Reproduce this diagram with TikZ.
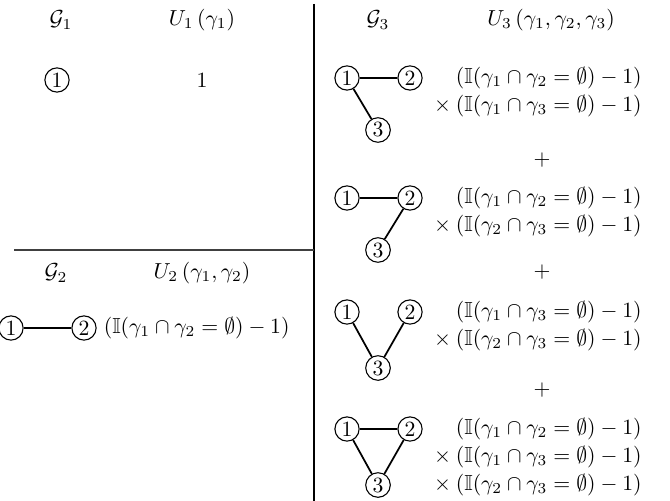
\documentclass[tikz,border=0pt]{standalone}
\usepackage{amsmath,amssymb}
\usepackage{tikz}
\usetikzlibrary{positioning}

\newcommand{\pairterm}[2]{(\mathbb{I}(\gamma_{#1}\cap\gamma_{#2}=\emptyset)-1)}

\begin{document}
\begin{tikzpicture}[
    x=0.46pt, y=-0.46pt,
    vtx/.style={circle, draw, line width=0.5pt, inner sep=1pt},
    link/.style={line width=0.8pt},
    term/.style={anchor=east, inner sep=0pt},
    rule/.style={line width=0.7pt}
]
\useasboundingbox (0,0) rectangle (670,501);

% frame
\draw[rule] (314,4) -- (314,501);
\draw[rule, black!75] (14,250) -- (314,250);

% headers
\node (g1) at (61,20)  {$\mathcal{G}_1$};
\node (u1) at (202,20) {$U_1\left(\gamma_1\right)$};
\node (g2) at (56,273) {$\mathcal{G}_2$};
\node (u2) at (202,273) {$U_2\left(\gamma_1,\gamma_2\right)$};
\node (g3) at (378,20) {$\mathcal{G}_3$};
\node (u3) at (551,20) {$U_3\left(\gamma_1,\gamma_2,\gamma_3\right)$};

% one vertex
\node[vtx] (s1) at (57,80) {1};
\node (s-t1) at (202,80) {$1$};

% two vertices
\node[vtx] (t1) at (11,328) {1};
\node[vtx] (t2) at (84,328) {2};
\node[term] (t-t1) at (290,328) {$\pairterm12$};
\draw[link] (t1) -- (t2);

% three vertices
\foreach \g/\y/\z in {a/78/130, b/198/250, c/312/368, d/429/485} {
    \node[vtx] (\g1) at (347,\y) {1};
    \node[vtx] (\g2) at (410,\y) {2};
    \node[vtx] (\g3) at (378,\z) {3};
}
\foreach \a/\b in {a1/a2, a1/a3, b1/b2, b2/b3, c1/c3, c2/c3,
                   d1/d2, d1/d3, d2/d3}
    \draw[link] (\a) -- (\b);

\node[term] (a-t1) at (642,78)  {$\pairterm12$};
\node[term] (a-t2) at (642,106) {${}\times\pairterm13$};
\node (p1) at (542,160) {$+$};
\node[term] (b-t1) at (642,198) {$\pairterm12$};
\node[term] (b-t2) at (642,226) {${}\times\pairterm23$};
\node (p2) at (542,272) {$+$};
\node[term] (c-t1) at (642,312) {$\pairterm13$};
\node[term] (c-t2) at (642,340) {${}\times\pairterm23$};
\node (p3) at (542,390) {$+$};
\node[term] (d-t1) at (642,429) {$\pairterm12$};
\node[term] (d-t2) at (642,457) {${}\times\pairterm13$};
\node[term] (d-t3) at (642,485) {${}\times\pairterm23$};
\end{tikzpicture}
\end{document}
